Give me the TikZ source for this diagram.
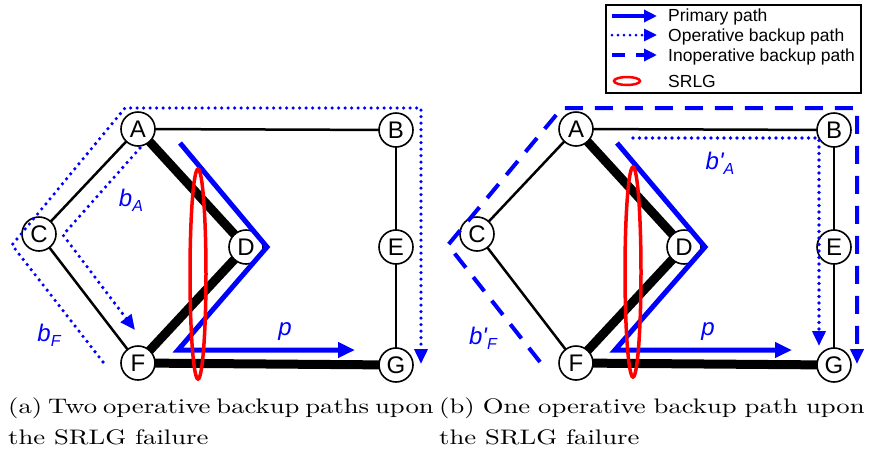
\documentclass[tikz,border=0pt]{standalone}
\usepackage{fontspec}
\usepackage{graphicx}
\newfontfamily\arial{Liberation Sans}
\newfontfamily\capfam{lmroman10-regular.otf}
\usetikzlibrary{arrows.meta}
\definecolor{pblue}{RGB}{0,0,255}
\definecolor{sred}{RGB}{255,0,0}
\newcommand\capfont{\capfam\fontsize{21}{30}\selectfont}
\newcommand\capline[2]{\scalebox{1.27}[1]{\makebox[#1][s]{#2}}}
\newcommand\subA[1]{\raisebox{-5pt}{\fontsize{16}{16}\selectfont #1}}
\tikzset{
 vtx/.style={circle,draw,line width=1.6pt,fill=white,minimum size=34pt,inner sep=0pt,font=\arial\fontsize{24}{24}\selectfont},
 thinedge/.style={line width=2.5pt},
 thickedge/.style={line width=9pt},
 primary/.style={pblue,line width=5pt,miter limit=20,-{Triangle[length=17pt,width=15pt]}},
 opback/.style={pblue,line width=3.6pt,dash pattern=on 0pt off 6.5pt,line cap=round,-{Triangle[length=15pt,width=13pt]}},
 inback/.style={pblue,line width=4pt,dash pattern=on 18pt off 12pt,-{Triangle[length=15pt,width=13pt]}},
 srlg/.style={sred,line width=3.5pt},
 lbl/.style={text=pblue,font=\arial\itshape\fontsize{24}{24}\selectfont,inner sep=0pt},
 legtext/.style={anchor=base west,inner sep=0pt,font=\arial\fontsize{17.5}{17.5}\selectfont},
 captxt/.style={anchor=base west,inner sep=0pt,font=\capfont},
}
\begin{document}
\begin{tikzpicture}[x=1pt,y=-1pt]
\useasboundingbox (0,0) rectangle (871,451);
% ---------- panel (a)
\begin{scope}
 \draw[thinedge] (138,129) -- (396,130);
 \draw[thinedge] (138,129) -- (39,234) -- (138,363);
 \draw[thinedge] (396,130) -- (396,365);
 \draw[thickedge] (138,129) -- (246,247) -- (138,363) -- (396,365);
 \node[vtx] (aA) at (138,129) {A};
 \node[vtx] (aB) at (396,130) {B};
 \node[vtx] (aC) at (39,234) {C};
 \node[vtx] (aD) at (246,247) {D};
 \node[vtx] (aE) at (396,247) {E};
 \node[vtx] (aF) at (138,363) {F};
 \node[vtx] (aG) at (396,365) {G};
 \coordinate (ap1) at (180,143);
 \coordinate (ap2) at (267,247);
 \coordinate (ap3) at (178,350);
 \coordinate (ap4) at (355,350);
 \draw[primary] (ap1) -- (ap2) -- (ap3) -- (ap4);
 \coordinate (aba1) at (140,148);
 \coordinate (aba2) at (63,235);
 \coordinate (aba3) at (135,330);
 \draw[opback] (aba1) -- (aba2) -- (aba3);
 \coordinate (abf1) at (103,362);
 \coordinate (abf2) at (12,245);
 \coordinate (abf3) at (125,108);
 \coordinate (abf4) at (421,108);
 \coordinate (abf5) at (421,364);
 \draw[opback] (abf1) -- (abf2) -- (abf3) -- (abf4) -- (abf5);
 \draw[srlg] (198,274) ellipse [x radius=8, y radius=105];
 \node[lbl] (abA) at (131,200) {b\subA{A}};
 \node[lbl] (abF) at (49,335) {b\subA{F}};
 \node[lbl] (ap) at (285,332) {p};
\end{scope}
% ---------- panel (b)
\begin{scope}[xshift=438pt]
 \draw[thinedge] (138,129) -- (396,130);
 \draw[thinedge] (138,129) -- (39,234) -- (138,363);
 \draw[thinedge] (396,130) -- (396,365);
 \draw[thickedge] (138,129) -- (246,247) -- (138,363) -- (396,365);
 \node[vtx] (bA) at (138,129) {A};
 \node[vtx] (bB) at (396,130) {B};
 \node[vtx] (bC) at (39,234) {C};
 \node[vtx] (bD) at (246,247) {D};
 \node[vtx] (bE) at (396,247) {E};
 \node[vtx] (bF) at (138,363) {F};
 \node[vtx] (bG) at (396,365) {G};
 \coordinate (bp1) at (179,143);
 \coordinate (bp2) at (267,247);
 \coordinate (bp3) at (177,350);
 \coordinate (bp4) at (354,350);
 \draw[primary] (bp1) -- (bp2) -- (bp3) -- (bp4);
 \coordinate (bba1) at (195,138);
 \coordinate (bba2) at (381,138);
 \coordinate (bba3) at (381,346);
 \draw[opback] (bba1) -- (bba2) -- (bba3);
 \coordinate (bbf1) at (102,362);
 \coordinate (bbf2) at (10,245);
 \coordinate (bbf3) at (124,108);
 \coordinate (bbf4) at (419,108);
 \coordinate (bbf5) at (419,364);
 \draw[inback] (bbf1) -- (bbf2) -- (bbf3) -- (bbf4) -- (bbf5);
 \draw[srlg] (195,272) ellipse [x radius=8, y radius=105];
 \node[lbl] (bbA) at (282,163) {b\textquotesingle\subA{A}};
 \node[lbl] (bbF) at (45,338) {b\textquotesingle\subA{F}};
 \node[lbl] (bpl) at (270,332) {p};
\end{scope}
% ---------- legend
\draw[line width=2pt] (606,5) rectangle (861,93);
\coordinate (l1a) at (612,16); \coordinate (l1b) at (657,16);
\coordinate (l2a) at (612,35); \coordinate (l2b) at (657,35);
\coordinate (l3a) at (612,55); \coordinate (l3b) at (657,55);
\draw[pblue,line width=4pt,-{Triangle[length=13pt,width=12pt]}] (l1a) -- (l1b);
\draw[pblue,line width=3pt,dash pattern=on 0pt off 6pt,line cap=round,-{Triangle[length=13pt,width=12pt]}] (l2a) -- (l2b);
\draw[pblue,line width=3.5pt,dash pattern=on 13pt off 11pt,-{Triangle[length=13pt,width=12pt]}] (l3a) -- (l3b);
\draw[sred,line width=2.5pt] (627,81) ellipse [x radius=13, y radius=4];
\node[legtext] (lt1) at (668,21) {Primary path};
\node[legtext] (lt2) at (668,41) {Operative backup path};
\node[legtext] (lt3) at (668,61) {Inoperative backup path};
\node[legtext] (lt4) at (668,87) {SRLG};
% ---------- captions
\node[captxt] (ca1) at (8,413) {\capline{333pt}{(a) Two operative backup paths upon}};
\node[captxt] (ca2) at (8,444) {\scalebox{1.27}[1]{the SRLG failure}};
\node[captxt] (cb1) at (439,413) {\capline{335pt}{(b) One operative backup path upon}};
\node[captxt] (cb2) at (439,444) {\scalebox{1.27}[1]{the SRLG failure}};
\end{tikzpicture}
\end{document}
